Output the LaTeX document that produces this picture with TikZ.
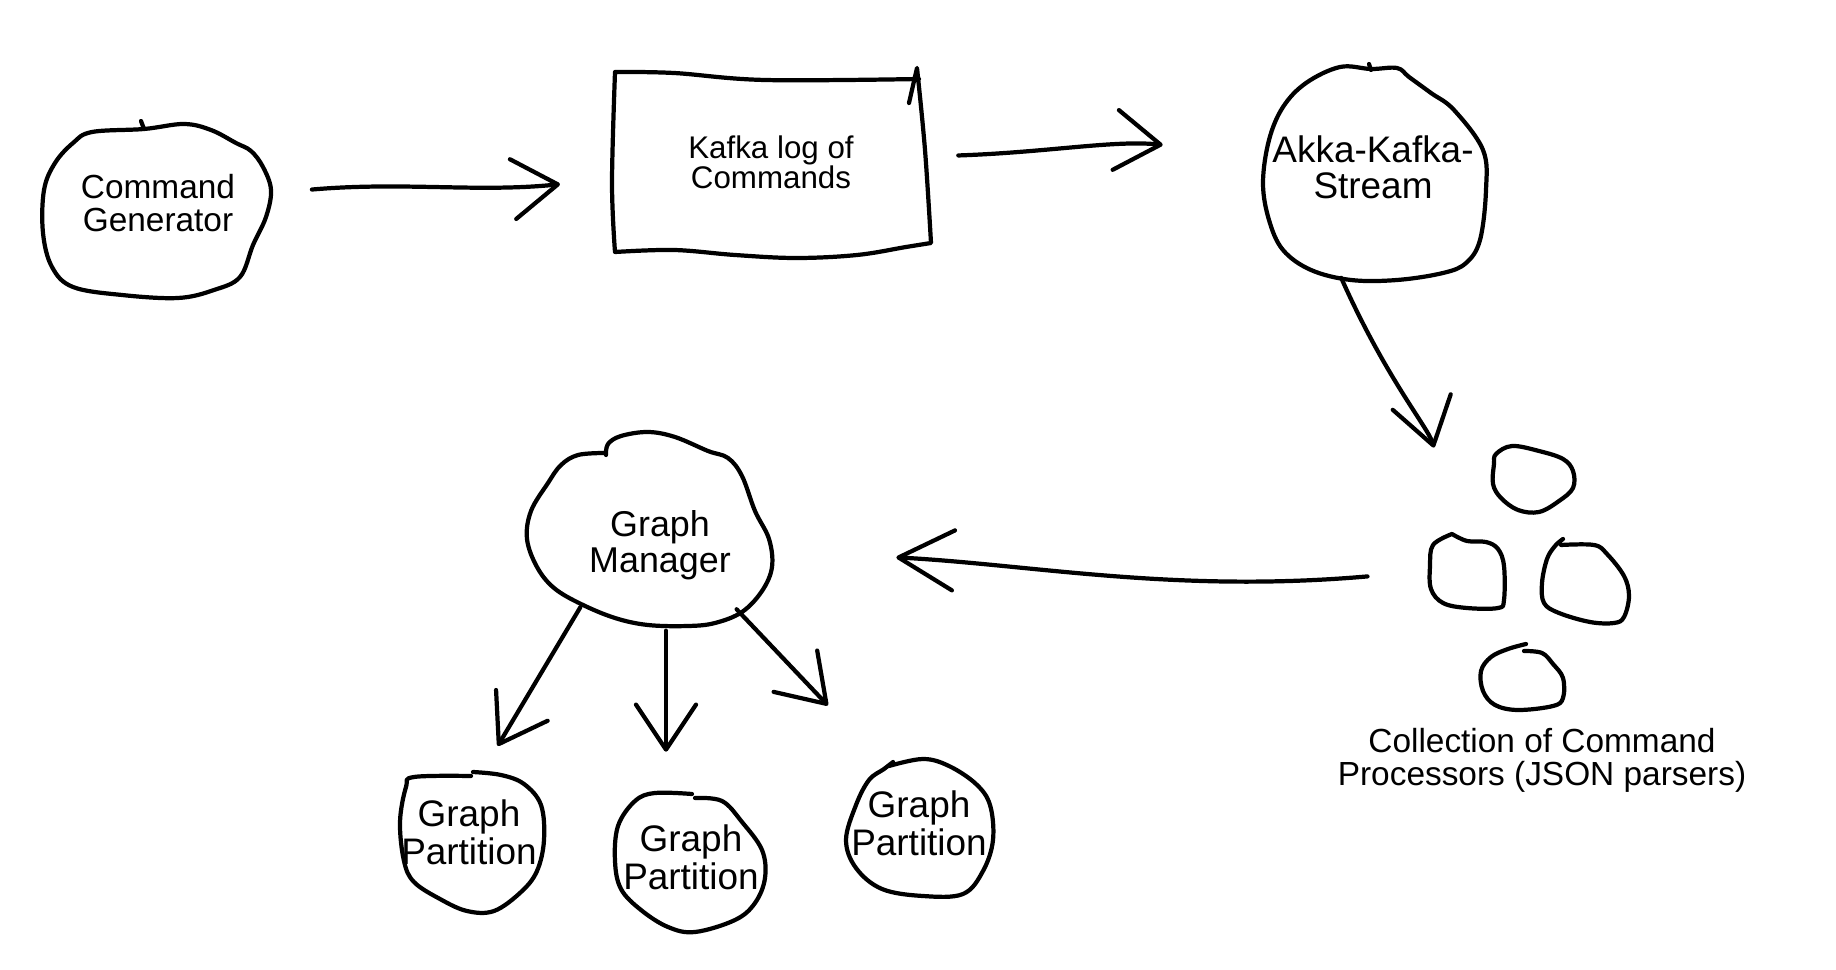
\documentclass[tikz,border=0pt]{standalone}
\usepackage{fontspec}
\setmainfont{Liberation Sans}
\usetikzlibrary{shapes}
\usetikzlibrary{arrows.meta}

\begin{document}
\begin{tikzpicture}[x=0.01cm, y=0.01cm]
	\tikzset{blob/.style = {shape=ellipse, inner sep=0pt, align=center}}
	\tikzset{pen/.style = {line width=1.2pt, line cap=round, line join=round}}
	\tikzset{edge/.style = {-{Straight Barb[length=4.5mm, width=6mm, round]}, pen}}
	\tikzset{sketch/.style = {pen, smooth, tension=0.6}}

	\path[fill=white, use as bounding box] (0,0) rectangle (1836,-970);

	% nodes
	\node[blob, minimum width=2.26cm, minimum height=1.76cm,
		font=\fontsize{9.5pt}{9.5pt}\selectfont] (gen) at (158,-203) {Command\\Generator};
	\node[shape=rectangle, minimum width=3.19cm, minimum height=1.83cm, inner sep=0pt,
		align=center, font=\fontsize{8.9pt}{8.6pt}\selectfont] (kafka) at (771,-162) {Kafka log of\\Commands};
	\node[blob, minimum width=2.23cm, minimum height=2.26cm,
		font=\fontsize{10.5pt}{10.2pt}\selectfont] (akka) at (1373,-167) {Akka-Kafka-\\Stream};
	\node[blob, minimum width=0.80cm, minimum height=0.66cm] (proc1) at (1533,-478) {};
	\node[blob, minimum width=0.74cm, minimum height=0.74cm] (proc2) at (1467,-571) {};
	\node[blob, minimum width=0.87cm, minimum height=0.84cm] (proc3) at (1586,-581) {};
	\node[blob, minimum width=0.82cm, minimum height=0.66cm] (proc4) at (1522,-677) {};
	\node[align=center, inner sep=0pt, font=\fontsize{9.5pt}{9.4pt}\selectfont]
		(procs) at (1542,-760) {Collection of Command\\Processors (JSON parsers)};
	\node[blob, minimum width=2.30cm, minimum height=1.70cm,
		font=\fontsize{10.2pt}{10.3pt}\selectfont] (mgr) at (660,-545) {Graph\\Manager};
	\node[blob, minimum width=1.44cm, minimum height=1.39cm,
		font=\fontsize{10.5pt}{10.7pt}\selectfont] (part1) at (469,-832) {Graph\\Partition};
	\node[blob, minimum width=1.50cm, minimum height=1.39cm,
		font=\fontsize{10.5pt}{10.7pt}\selectfont] (part2) at (691,-857) {Graph\\Partition};
	\node[blob, minimum width=1.47cm, minimum height=1.37cm,
		font=\fontsize{10.5pt}{10.7pt}\selectfont] (part3) at (919,-823) {Graph\\Partition};

	% outlines
	\draw[sketch] plot[smooth cycle] coordinates {(144,-129) (184,-124) (211,-130) (236,-143)
		(251,-151) (263,-167) (271,-190) (266,-217) (253,-245) (240,-277) (214,-290) (178,-298)
		(122,-295) (73,-287) (52,-267) (43,-233) (44,-190) (55,-163) (73,-143) (92,-132)};
	\draw[pen] (141,-121) -- (144,-129);

	\draw[pen] (909,-103) -- (917,-68)
		-- plot[smooth, tension=0.6] coordinates {(917,-68) (925,-150) (931,-243)}
		-- plot[smooth, tension=0.6] coordinates {(931,-243) (906,-247) (857,-255) (796,-258) (735,-255) (674,-250) (615,-252)}
		-- plot[smooth, tension=0.6] coordinates {(615,-252) (612,-183) (615,-72)}
		-- plot[smooth, tension=0.6] coordinates {(615,-72) (674,-73) (765,-80) (919,-79)};

	\draw[sketch] plot[smooth cycle] coordinates {(1371,-69) (1397,-68) (1409,-77) (1431,-93)
		(1454,-110) (1483,-150) (1486,-190) (1480,-240) (1466,-263) (1443,-273) (1397,-280)
		(1351,-280) (1311,-270) (1283,-250) (1269,-220) (1263,-183) (1269,-140) (1283,-107)
		(1306,-83) (1340,-67)};
	\draw[pen] (1369,-64) -- (1371,-70);

	\draw[sketch] plot[smooth cycle] coordinates {(1512,-446) (1539,-451) (1563,-459) (1573,-471)
		(1573,-488) (1559,-501) (1539,-512) (1518,-510) (1501,-498) (1493,-484) (1494,-464) (1496,-454)};
	\draw[sketch] plot coordinates {(1452,-534) (1467,-541) (1486,-542) (1498,-549) (1504,-566)
		(1504,-600) (1498,-608) (1467,-608) (1443,-603) (1431,-589) (1430,-566) (1433,-545) (1452,-534)};
	\draw[sketch] plot coordinates {(1561,-545) (1594,-545) (1607,-554) (1624,-576) (1629,-596)
		(1624,-617) (1614,-623) (1590,-622) (1559,-613) (1544,-603) (1542,-583) (1547,-559)
		(1555,-546) (1563,-539)};
	\draw[sketch] plot coordinates {(1524,-651) (1542,-653) (1553,-664) (1563,-678) (1563,-698)
		(1553,-706) (1518,-710) (1495,-705) (1483,-691) (1481,-671) (1491,-657) (1508,-649) (1526,-644)};

	\draw[sketch] plot coordinates {(606,-455) (608,-444) (621,-436) (648,-432) (675,-437) (708,-451)
		(728,-458) (742,-476) (755,-511) (769,-539) (772,-567) (762,-591) (742,-612) (715,-623)
		(688,-626) (648,-625) (615,-618) (581,-604) (554,-588) (537,-567) (527,-539) (531,-511)
		(548,-483) (561,-465) (578,-455) (604,-453)};

	\draw[sketch] plot coordinates {(473,-772) (501,-775) (524,-784) (541,-805) (544,-840)
		(537,-871) (521,-892) (494,-911) (467,-911) (440,-899) (414,-882) (404,-861) (400,-822)
		(406,-787) (414,-777) (471,-776)};
	\draw[sketch] plot coordinates {(695,-798) (722,-801) (742,-822) (762,-850) (765,-878)
		(755,-903) (735,-920) (695,-932) (668,-927) (641,-910) (621,-889) (615,-861) (618,-826)
		(635,-801) (655,-793) (692,-794)};
	\draw[sketch] plot coordinates {(889,-766) (923,-759) (949,-766) (976,-784) (990,-805)
		(993,-840) (983,-871) (963,-894) (923,-896) (882,-889) (856,-868) (846,-840) (856,-805)
		(869,-780) (884,-769) (893,-762)};

	% edges
	\draw[edge, shorten <=0.41cm, shorten >=0.51cm] (gen) to[out=5, in=186] (kafka);
	\draw[edge, shorten <=0.27cm, shorten >=0.69cm] (kafka) to[out=2, in=174] (akka);
	\draw[edge, shorten >=0.9cm] (akka.-106) to[out=-66, in=105] (proc2);
	\draw[edge, -{Straight Barb[length=5.5mm, width=6mm, round]}, shorten <=0.62cm, shorten >=1.21cm]
		(proc2.west) to[out=185, in=-3] (mgr);
	\draw[edge, shorten >=0.2cm] (mgr.218) -- (part1.75);
	\draw[edge, shorten >=0.35cm] (mgr.-86) -- (mgr.-86 |- part2.north);
	\draw[edge, shorten >=0.75cm] (mgr.-40) -- (part3.122);
\end{tikzpicture}
\end{document}
